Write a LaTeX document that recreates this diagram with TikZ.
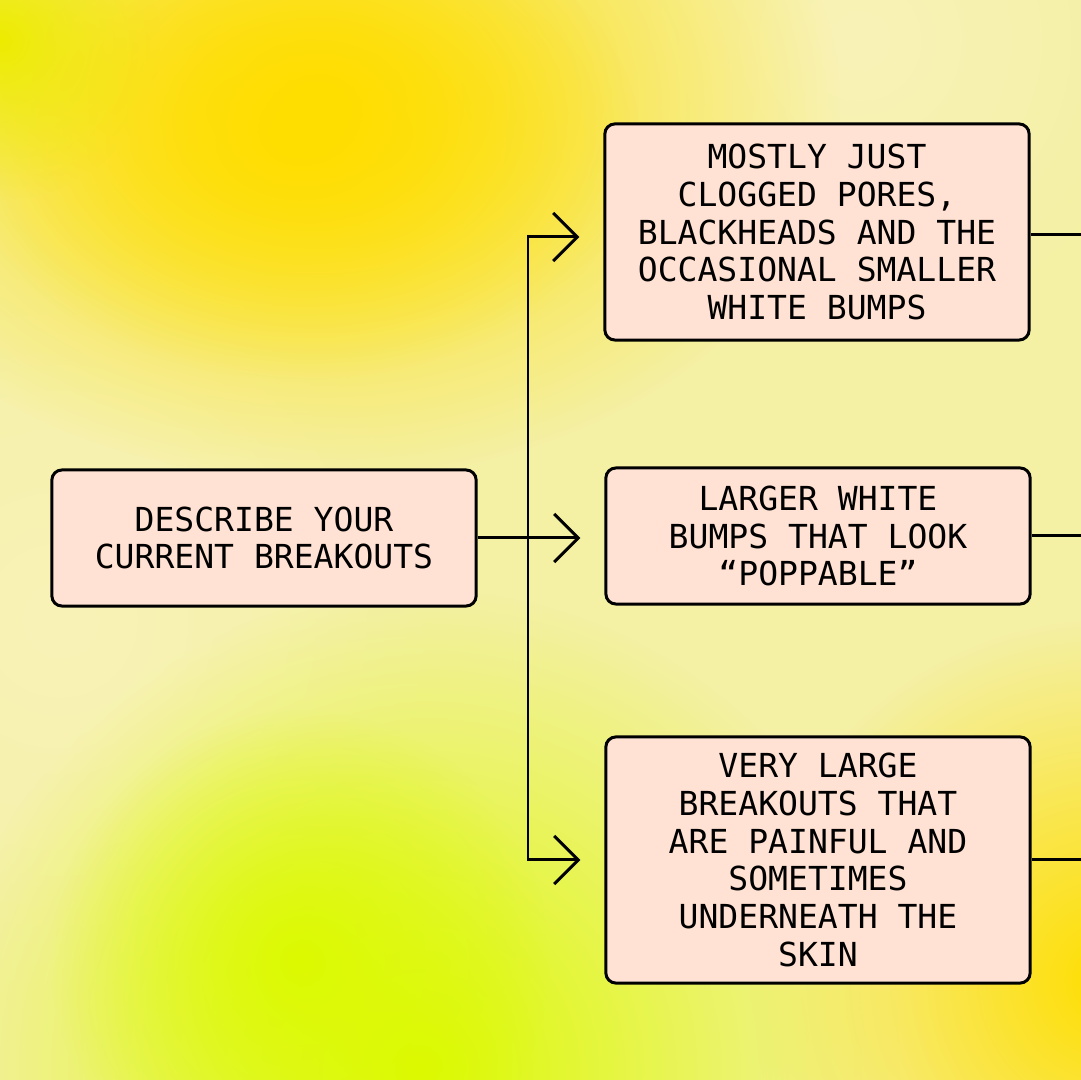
\documentclass[tikz,border=0pt]{standalone}
\usepackage{fontspec}
\setmonofont{DejaVu Sans Mono}
\usetikzlibrary{arrows.meta,fadings}

\definecolor{peach}{HTML}{FFE2D3}
\definecolor{paleyellow}{HTML}{F4F0A4}
\definecolor{sunyellow}{HTML}{FFDE00}
\definecolor{limeyellow}{HTML}{DCFA00}
\definecolor{creamyellow}{HTML}{F9F3B8}
\tikzfading[name=blob, inner color=transparent!0, outer color=transparent!100]

\begin{document}
\begin{tikzpicture}[x=0.01cm, y=-0.01cm,
    box/.style={draw, line width=0.85pt, fill=peach, rounded corners=0.1cm,
      minimum width=4.24cm, inner sep=0pt, align=center,
      font=\ttfamily\fontsize{9.4}{10.7}\selectfont},
    link/.style={line width=0.85pt, shorten >=2.4mm,
      -{Straight Barb[length=2.4mm, width=4.8mm]}},
    wire/.style={line width=0.85pt}]
  \useasboundingbox (0,0) rectangle (1081,1080);
  \clip (0,0) rectangle (1081,1080);

  % Hintergrund
  \fill[paleyellow] (0,0) rectangle (1081,1080);
  \fill[creamyellow, path fading=blob] (860,40) circle (3cm);
  \fill[creamyellow, path fading=blob] (60,620) circle (3.8cm);
  \fill[sunyellow, path fading=blob] (320,100) ellipse (5.2cm and 3.8cm);
  \fill[sunyellow, path fading=blob] (300,140) ellipse (3.4cm and 2.4cm);
  \fill[limeyellow!50!sunyellow, path fading=blob] (0,40) circle (1.6cm);
  \fill[limeyellow, path fading=blob] (420,1070) circle (4.8cm);
  \fill[limeyellow, path fading=blob] (300,960) circle (2.5cm);
  \fill[sunyellow, path fading=blob] (1110,980) circle (3.6cm);

  % Kaesten
  \node[box, minimum height=1.36cm] (describe) at (264,538) {DESCRIBE YOUR\\CURRENT BREAKOUTS};
  \node[box, minimum height=2.16cm] (clogged) at (817,232) {MOSTLY JUST\\CLOGGED PORES,\\BLACKHEADS AND THE\\OCCASIONAL SMALLER\\WHITE BUMPS};
  \node[box, minimum height=1.36cm] (poppable) at (818,536) {LARGER WHITE\\BUMPS THAT LOOK\\“POPPABLE”};
  \node[box, minimum height=2.46cm] (painful) at (818,860) {VERY LARGE\\BREAKOUTS THAT\\ARE PAINFUL AND\\SOMETIMES\\UNDERNEATH THE\\SKIN};

  % Pfeile
  \coordinate (split) at (528,538);
  \coordinate (rim) at (1090,0);
  \draw[link] (describe.east) -- (describe.east -| poppable.west);
  \draw[link] (split) |- ([yshift=-0.05cm]clogged.west);
  \draw[link] (split) |- (painful.west);

  % nach rechts raus
  \draw[wire] ([yshift=-0.03cm]clogged.east) -- ([yshift=-0.03cm]clogged.east -| rim);
  \draw[wire] (poppable.east) -- (poppable.east -| rim);
  \draw[wire] (painful.east) -- (painful.east -| rim);
\end{tikzpicture}
\end{document}
